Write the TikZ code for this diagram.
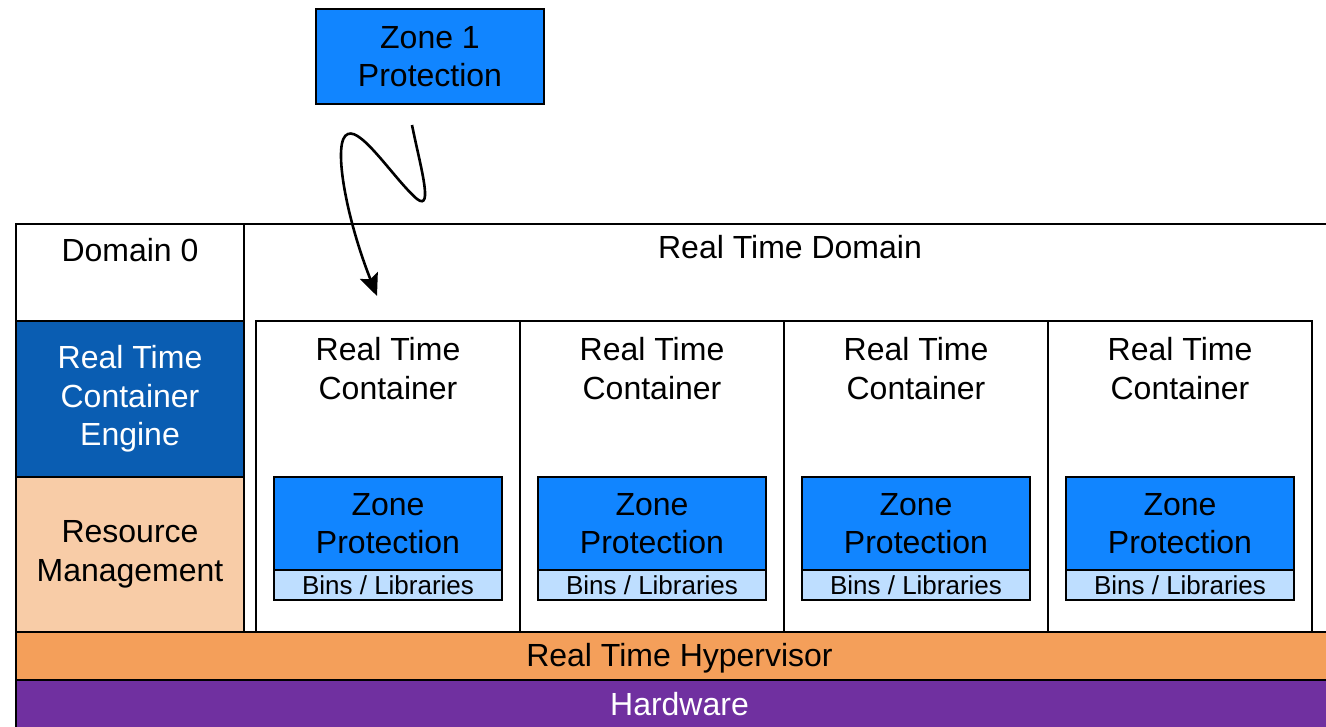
\documentclass[tikz,border=0pt]{standalone}
\usepackage{fontspec}
\setmainfont{Liberation Sans}
\usetikzlibrary{arrows.meta}
\definecolor{zblue}{RGB}{17,133,255}
\definecolor{dblue}{RGB}{10,93,178}
\definecolor{peach}{RGB}{248,204,167}
\definecolor{orng}{RGB}{244,159,90}
\definecolor{purp}{RGB}{112,48,160}
\definecolor{lblue}{RGB}{190,222,255}
\tikzset{
  box/.style={draw=black, line width=2.6pt, inner sep=0pt, align=center},
  big/.style={font=\fontsize{32}{38.5}\selectfont},
  small/.style={font=\fontsize{26}{30}\selectfont},
  txt/.style={inner sep=0pt, align=center},
  squig/.style={line width=2.6pt, -{Stealth[length=22pt,width=19pt,inset=4pt]}}
}
\begin{document}
\begin{tikzpicture}[x=1pt,y=-1pt]
\useasboundingbox (0,0) rectangle (1326,726);
% top zone box
\node[box, big, fill=zblue, minimum width=228pt, minimum height=95pt] (z1) at (430,56.5) {Zone 1\\Protection};
% domains
\node[box, minimum width=1101pt, minimum height=408pt] (rtd) at (794.5,428) {};
\node[txt, big] (rtdt) at (790,247) {Real Time Domain};
\node[box, minimum width=228pt, minimum height=97pt] (d0) at (130,272.5) {};
\node[txt, big] (d0t) at (130,250) {Domain 0};
\node[box, big, fill=dblue, text=white, minimum width=228pt, minimum height=156pt] (eng) at (130,399) {Real Time\\Container\\Engine};
\node[box, big, fill=peach, minimum width=228pt, minimum height=155pt] (res) at (130,554.5) {Resource\\Management};
% containers
\foreach \i/\cx in {1/388,2/652,3/916,4/1180}{
  \node[box, minimum width=264pt, minimum height=311pt] (c\i) at (\cx,476.5) {};
  \node[txt, big] (ct\i) at (\cx,368.5) {Real Time\\Container};
  \node[box, big, fill=zblue, minimum width=228pt, minimum height=93pt] (zp\i) at (\cx,523.5) {Zone\\Protection};
  \node[box, small, fill=lblue, minimum width=228pt, minimum height=30pt] (bl\i) at (\cx,585) {Bins / Libraries};
}
% bars
\node[box, fill=orng, minimum width=1329pt, minimum height=48pt] (hv) at (680.5,656) {};
\node[txt, big] (hvt) at (679.5,658) {Real Time Hypervisor};
\node[box, fill=purp, minimum width=1329pt, minimum height=56pt] (hw) at (680.5,708) {};
\node[txt, big, text=white] (hwt) at (679.5,704) {Hardware};
% squiggle arrow
\coordinate (s) at (412,125);
\coordinate (t) at (377,296);
\draw[squig] (s) .. controls (420,165) and (434,212) .. (417,199)
  .. controls (395,180) and (362,128) .. (348,134)
  .. controls (332,139) and (345,215) .. (t);
\end{tikzpicture}
\end{document}
